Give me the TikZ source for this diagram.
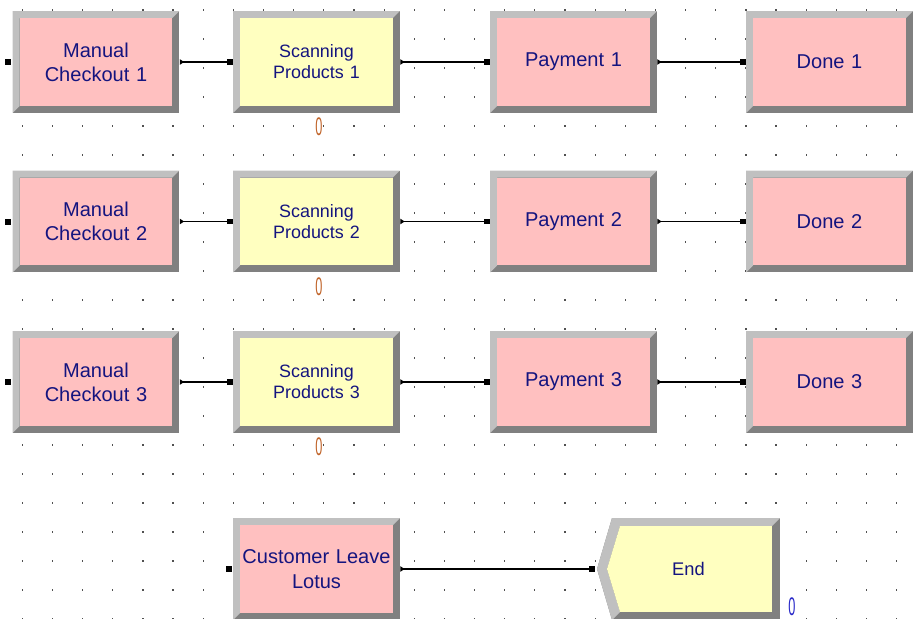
\documentclass[tikz,border=0pt]{standalone}
\usepackage{fontspec}
\setmainfont{Liberation Sans}
\usetikzlibrary{arrows.meta}

\definecolor{bevlight}{HTML}{C0C0C0}
\definecolor{bevdark}{HTML}{808080}
\definecolor{procpink}{HTML}{FFC0C0}
\definecolor{procyellow}{HTML}{FFFFC0}
\definecolor{labelblue}{HTML}{14147F}
\definecolor{cntorange}{HTML}{C0642A}
\definecolor{cntblue}{HTML}{2828C8}
\definecolor{griddot}{HTML}{505050}
\def\bev{0.14cm}

\tikzset{
    module/.style={rectangle, fill=bevdark, inner sep=0pt, minimum width=3.34cm, minimum height=2.04cm,
        text width=3.25cm, align=center, text=labelblue,
        path picture={
            \fill[bevlight] (path picture bounding box.north west) -- (path picture bounding box.north east)
                -- ([xshift=-\bev,yshift=-\bev]path picture bounding box.north east)
                -- ([xshift=\bev,yshift=-\bev]path picture bounding box.north west)
                -- ([xshift=\bev,yshift=\bev]path picture bounding box.south west)
                -- (path picture bounding box.south west) -- cycle;
            \fill[#1] ([xshift=\bev,yshift=-\bev]path picture bounding box.north west)
                rectangle ([xshift=-\bev,yshift=\bev]path picture bounding box.south east);
        }},
    pinkbox/.style={module=procpink, font=\fontsize{11.4}{13.8}\selectfont},
    yellowbox/.style={module=procyellow, font=\fontsize{10.2}{12}\selectfont},
    disposebox/.style={rectangle, inner sep=0pt, minimum width=3.66cm, minimum height=2.04cm, text=labelblue,
        font=\fontsize{10.4}{12}\selectfont,
        path picture={
            \fill[bevdark] ([xshift=0.3cm]path picture bounding box.north west) -- (path picture bounding box.north east)
                -- (path picture bounding box.south east) -- ([xshift=0.3cm]path picture bounding box.south west)
                -- (path picture bounding box.west) -- cycle;
            \fill[bevlight] ([xshift=0.3cm]path picture bounding box.north west) -- (path picture bounding box.north east)
                -- ([xshift=-0.16cm,yshift=-0.16cm]path picture bounding box.north east)
                -- ([xshift=0.46cm,yshift=-0.16cm]path picture bounding box.north west)
                -- ([xshift=0.2cm]path picture bounding box.west)
                -- ([xshift=0.46cm,yshift=0.16cm]path picture bounding box.south west)
                -- ([xshift=0.3cm]path picture bounding box.south west)
                -- (path picture bounding box.west) -- cycle;
            \fill[procyellow] ([xshift=0.46cm,yshift=-0.16cm]path picture bounding box.north west)
                -- ([xshift=-0.16cm,yshift=-0.16cm]path picture bounding box.north east)
                -- ([xshift=-0.16cm,yshift=0.16cm]path picture bounding box.south east)
                -- ([xshift=0.46cm,yshift=0.16cm]path picture bounding box.south west)
                -- ([xshift=0.2cm]path picture bounding box.west) -- cycle;
        }},
    counter/.style={inner sep=0pt, transform shape, xscale=0.5, font=\fontsize{14.5}{14.5}\selectfont},
}

\begin{document}
\begin{tikzpicture}[x=0.02cm, y=-0.02cm]
    \useasboundingbox (0,0) rectangle (917,619);

    % grid
    \foreach \i in {0,...,29} {
        \foreach \j in {0,...,21} {
            \fill[griddot] (22.3+30.15*\i-0.6, 10+29*\j-0.6) rectangle ++(1.2,1.2);
        }
    }

    \begin{scope}[every node/.style={pinkbox}]
        \node (m1) at (96,62) {Manual\\Checkout 1};
        \node (m2) at (96,221.5) {Manual\\Checkout 2};
        \node (m3) at (96,382) {Manual\\Checkout 3};
        \node (p1) at (573.5,62) {Payment 1};
        \node (p2) at (573.5,221.5) {Payment 2};
        \node (p3) at (573.5,382) {Payment 3};
        \node (d1) at (829.5,62) {Done 1};
        \node (d2) at (829.5,221.5) {Done 2};
        \node (d3) at (829.5,382) {Done 3};
        \node (leave) at (316.5,569) {Customer Leave\\Lotus};
    \end{scope}

    \begin{scope}[every node/.style={yellowbox}]
        \node (s1) at (316.5,62) {Scanning\\Products 1};
        \node (s2) at (316.5,221.5) {Scanning\\Products 2};
        \node (s3) at (316.5,382) {Scanning\\Products 3};
    \end{scope}

    \node[disposebox] (fin) at (688.5,569) {End};

    \begin{scope}[every node/.style={counter, text=cntorange}]
        \node (c1) at (319,127) {0};
        \node (c2) at (319,287) {0};
        \node (c3) at (319,447) {0};
    \end{scope}
    \node[counter, text=cntblue] (c4) at (792,607) {0};

    \begin{scope}[every edge/.style={draw, line width=0.6pt,
            {Triangle[reversed, length=2.4pt, width=3pt]}-{Square[length=3.4pt]}}]
        \path (m1) edge (s1);
        \path (s1) edge (p1);
        \path (p1) edge (d1);
        \path (m2) edge (s2);
        \path (s2) edge (p2);
        \path (p2) edge (d2);
        \path (m3) edge (s3);
        \path (s3) edge (p3);
        \path (p3) edge (d3);
        \path (leave) edge ([xshift=-0.04cm]fin.west);
    \end{scope}

    % entry points without a connector
    \fill (m1.west) ++(-1,-3) rectangle ++(-6,6);
    \fill (m2.west) ++(-1,-3) rectangle ++(-6,6);
    \fill (m3.west) ++(-1,-3) rectangle ++(-6,6);
    \fill (leave.west) ++(-1,-3) rectangle ++(-6,6);
\end{tikzpicture}
\end{document}
